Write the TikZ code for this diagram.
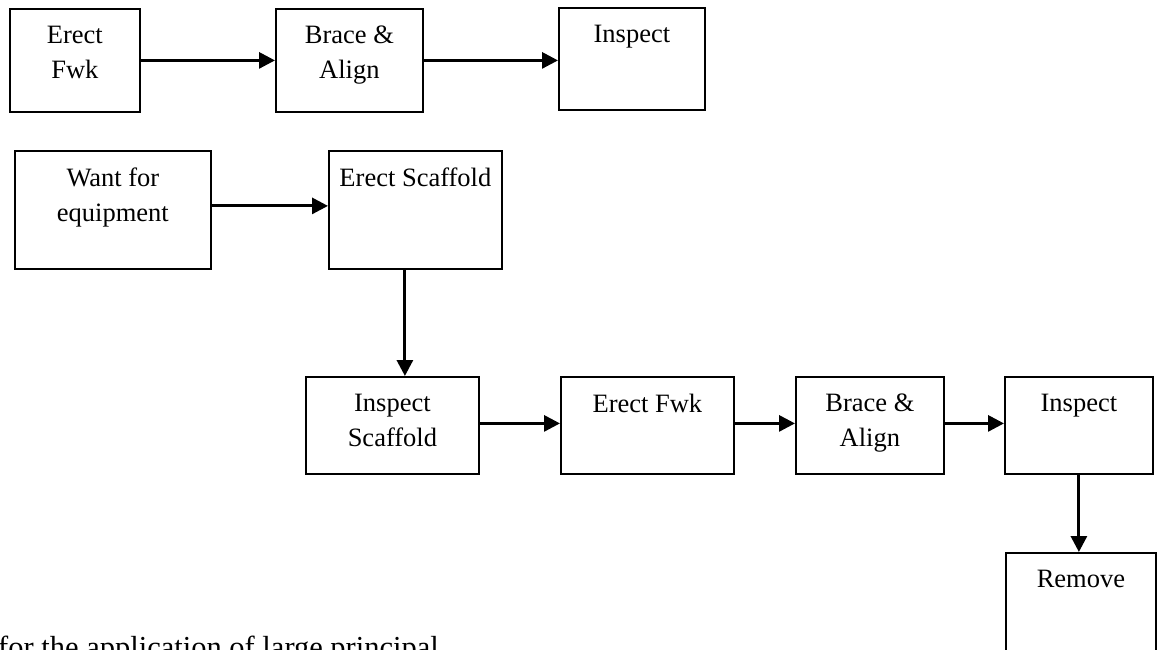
\documentclass[tikz,border=0pt]{standalone}
\usepackage{fontspec}
\setmainfont{Liberation Serif}
\usetikzlibrary{arrows.meta}

\tikzset{
  box/.style={draw, line width=1.8pt, rectangle, inner sep=0pt, anchor=north west},
  txt/.style={anchor=north, align=center, inner sep=0pt,
              font=\fontsize{26.5}{35.5}\selectfont},
  arr/.style={line width=3pt, -{Triangle[length=16pt,width=16pt]}},
}

\begin{document}
\begin{tikzpicture}[x=1pt,y=-1pt]
  \useasboundingbox (0,0) rectangle (1159,649);
  \clip (0,0) rectangle (1159,649);

  % first sequence
  \node[box, minimum width=130pt, minimum height=103pt] (A1) at (9,8) {};
  \node[box, minimum width=147pt, minimum height=103pt] (A2) at (275,8) {};
  \node[box, minimum width=146pt, minimum height=102pt] (A3) at (558,7) {};
  \node[txt] (A1t) at ([yshift=-17.5pt]A1.north) {Erect\\Fwk};
  \node[txt] (A2t) at ([yshift=-17.5pt]A2.north) {Brace \&\\Align};
  \node[txt] (A3t) at ([yshift=-17.5pt]A3.north) {Inspect};
  \draw[arr] (A1.east) -- (A1.east -| A2.west);
  \draw[arr] (A2.east) -- (A2.east -| A3.west);

  % second sequence
  \node[box, minimum width=196pt, minimum height=118pt] (B1) at (14,150) {};
  \node[box, minimum width=173pt, minimum height=118pt] (B2) at (328,150) {};
  \node[txt] (B1t) at ([yshift=-17.5pt]B1.north) {Want for\\equipment};
  \node[txt] (B2t) at ([yshift=-17.5pt]B2.north) {Erect Scaffold};
  \draw[arr] ([yshift=4pt]B1.east) -- ([yshift=4pt]B1.east -| B2.west);

  \node[box, minimum width=173pt, minimum height=97pt] (C1) at (305,376) {};
  \node[box, minimum width=173pt, minimum height=97pt] (C2) at (560,376) {};
  \node[box, minimum width=148pt, minimum height=97pt] (C3) at (795,376) {};
  \node[box, minimum width=148pt, minimum height=97pt] (C4) at (1004,376) {};
  \node[box, minimum width=150pt, minimum height=150pt] (D) at (1005,552) {};
  \node[txt] (C1t) at ([yshift=-17.5pt]C1.north) {Inspect\\Scaffold};
  \node[txt] (C2t) at ([yshift=-17.5pt]C2.north) {Erect Fwk};
  \node[txt] (C3t) at ([yshift=-17.5pt]C3.north) {Brace \&\\Align};
  \node[txt] (C4t) at ([yshift=-17.5pt]C4.north) {Inspect};
  \node[txt] (Dt) at ([yshift=-17.5pt]D.north) {Remove};

  \draw[arr] ([xshift=-10.5pt]B2.south) -- ([xshift=-10.5pt]B2.south |- C1.north);
  \draw[arr] ([yshift=2pt]C1.east) -- ([yshift=2pt]C1.east -| C2.west);
  \draw[arr] ([yshift=2pt]C2.east) -- ([yshift=2pt]C2.east -| C3.west);
  \draw[arr] ([yshift=2pt]C3.east) -- ([yshift=2pt]C3.east -| C4.west);
  \draw[arr] (C4.south) -- (C4.south |- D.north);

  % caption line running off the lower edge
  \node[anchor=base west, inner sep=0pt, font=\fontsize{30.5}{36}\selectfont]
    (note) at (-2,657) {for the application of large principal};
\end{tikzpicture}
\end{document}
